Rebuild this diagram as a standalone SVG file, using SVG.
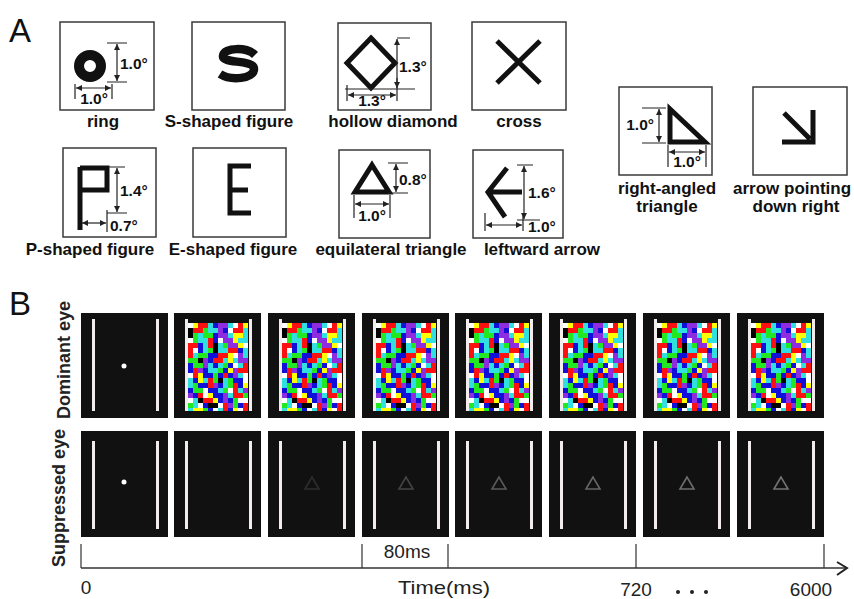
<svg xmlns="http://www.w3.org/2000/svg" xmlns:xlink="http://www.w3.org/1999/xlink" width="854" height="599" viewBox="0 0 854 599">
<style>
.box{fill:#fff;stroke:#3a3a3a;stroke-width:1.5}
.lbl{font-family:"Liberation Sans",Arial,sans-serif;font-weight:bold;font-size:17px;fill:#111}
.dim{font-family:"Liberation Sans",Arial,sans-serif;font-weight:bold;font-size:15.5px;fill:#111}
.fig{fill:none;stroke:#111;stroke-width:5;stroke-linejoin:miter}
.tk{stroke:#222;stroke-width:1.2;fill:none}
.da{stroke:#222;stroke-width:1.2;fill:none;marker-start:url(#ah);marker-end:url(#ah)}
.pan{font-family:"Liberation Sans",Arial,sans-serif;font-size:33px;fill:#111}
.frame{fill:#111}
.bar{fill:#f3ecec}
.tri{fill:none;stroke-width:1.6}
.ax{font-family:"Liberation Sans",Arial,sans-serif;font-size:19px;fill:#222}
.eye{font-family:"Liberation Sans",Arial,sans-serif;font-weight:bold;font-size:18px;fill:#222}
.R{fill:#ff1010}.G{fill:#22e822}.C{fill:#30e0e0}.Y{fill:#ffff00}.M{fill:#8e2de0}.W{fill:#ffffff}.K{fill:#000}.B{fill:#1010d8}
</style>
<defs>
<marker id="ah" viewBox="0 0 6 6" refX="6" refY="3" markerWidth="6" markerHeight="6" markerUnits="userSpaceOnUse" orient="auto-start-reverse">
<path d="M0,0 L6,3 L0,6 z" fill="#222"/>
</marker>
<clipPath id="mclip"><rect x="0" y="0" width="60" height="88"/></clipPath>
<g id="mond" clip-path="url(#mclip)">
<rect class="B" x="0" y="0" width="60" height="90"/>
<rect class="W" x="0" y="0" width="5" height="5"/><rect class="Y" x="5" y="0" width="5" height="5"/><rect class="R" x="10" y="0" width="10" height="5"/><rect class="C" x="20" y="0" width="5" height="5"/><rect class="M" x="30" y="0" width="10" height="5"/><rect class="C" x="40" y="0" width="5" height="5"/><rect class="W" x="45" y="0" width="5" height="5"/><rect class="R" x="50" y="0" width="5" height="5"/><rect class="Y" x="55" y="0" width="5" height="5"/>
<rect class="K" x="0" y="5" width="5" height="5"/><rect class="R" x="5" y="5" width="10" height="5"/><rect class="G" x="15" y="5" width="5" height="5"/><rect class="C" x="20" y="5" width="10" height="5"/><rect class="M" x="30" y="5" width="5" height="5"/><rect class="W" x="40" y="5" width="5" height="5"/><rect class="R" x="45" y="5" width="10" height="5"/><rect class="C" x="55" y="5" width="5" height="5"/>
<rect class="K" x="0" y="10" width="5" height="5"/><rect class="G" x="5" y="10" width="5" height="5"/><rect class="C" x="10" y="10" width="5" height="5"/><rect class="G" x="15" y="10" width="10" height="5"/><rect class="M" x="30" y="10" width="10" height="5"/><rect class="C" x="40" y="10" width="5" height="5"/><rect class="Y" x="45" y="10" width="10" height="5"/><rect class="C" x="55" y="10" width="5" height="5"/>
<rect class="W" x="0" y="15" width="5" height="5"/><rect class="G" x="5" y="15" width="5" height="5"/><rect class="C" x="10" y="15" width="10" height="5"/><rect class="R" x="20" y="15" width="5" height="5"/><rect class="W" x="30" y="15" width="5" height="5"/><rect class="M" x="35" y="15" width="10" height="5"/><rect class="Y" x="45" y="15" width="5" height="5"/><rect class="C" x="50" y="15" width="10" height="5"/>
<rect class="R" x="0" y="20" width="10" height="5"/><rect class="C" x="15" y="20" width="5" height="5"/><rect class="R" x="20" y="20" width="5" height="5"/><rect class="K" x="25" y="20" width="5" height="5"/><rect class="C" x="30" y="20" width="5" height="5"/><rect class="G" x="35" y="20" width="5" height="5"/><rect class="M" x="40" y="20" width="10" height="5"/><rect class="Y" x="50" y="20" width="5" height="5"/><rect class="W" x="55" y="20" width="5" height="5"/>
<rect class="R" x="0" y="25" width="5" height="5"/><rect class="W" x="5" y="25" width="5" height="5"/><rect class="C" x="15" y="25" width="5" height="5"/><rect class="G" x="20" y="25" width="5" height="5"/><rect class="K" x="25" y="25" width="5" height="5"/><rect class="C" x="30" y="25" width="10" height="5"/><rect class="R" x="40" y="25" width="10" height="5"/><rect class="C" x="55" y="25" width="5" height="5"/>
<rect class="R" x="0" y="30" width="5" height="5"/><rect class="C" x="5" y="30" width="5" height="5"/><rect class="G" x="10" y="30" width="10" height="5"/><rect class="R" x="30" y="30" width="10" height="5"/><rect class="Y" x="40" y="30" width="5" height="5"/><rect class="W" x="45" y="30" width="5" height="5"/><rect class="M" x="50" y="30" width="5" height="5"/><rect class="C" x="55" y="30" width="5" height="5"/>
<rect class="G" x="0" y="35" width="10" height="5"/><rect class="K" x="10" y="35" width="5" height="5"/><rect class="M" x="15" y="35" width="5" height="5"/><rect class="R" x="25" y="35" width="10" height="5"/><rect class="C" x="35" y="35" width="5" height="5"/><rect class="Y" x="40" y="35" width="5" height="5"/><rect class="C" x="45" y="35" width="5" height="5"/><rect class="M" x="50" y="35" width="10" height="5"/>
<rect class="G" x="5" y="40" width="10" height="5"/><rect class="M" x="15" y="40" width="5" height="5"/><rect class="C" x="20" y="40" width="5" height="5"/><rect class="C" x="30" y="40" width="5" height="5"/><rect class="G" x="35" y="40" width="5" height="5"/><rect class="W" x="45" y="40" width="5" height="5"/><rect class="C" x="50" y="40" width="5" height="5"/><rect class="R" x="55" y="40" width="5" height="5"/>
<rect class="R" x="5" y="45" width="5" height="5"/><rect class="M" x="10" y="45" width="5" height="5"/><rect class="C" x="20" y="45" width="10" height="5"/><rect class="G" x="30" y="45" width="5" height="5"/><rect class="Y" x="40" y="45" width="5" height="5"/><rect class="M" x="45" y="45" width="5" height="5"/><rect class="R" x="50" y="45" width="10" height="5"/>
<rect class="W" x="0" y="50" width="5" height="5"/><rect class="R" x="5" y="50" width="5" height="5"/><rect class="Y" x="10" y="50" width="5" height="5"/><rect class="G" x="25" y="50" width="5" height="5"/><rect class="R" x="35" y="50" width="5" height="5"/><rect class="M" x="45" y="50" width="5" height="5"/><rect class="C" x="50" y="50" width="5" height="5"/><rect class="W" x="55" y="50" width="5" height="5"/>
<rect class="C" x="0" y="55" width="5" height="5"/><rect class="Y" x="10" y="55" width="5" height="5"/><rect class="C" x="15" y="55" width="5" height="5"/><rect class="R" x="20" y="55" width="5" height="5"/><rect class="G" x="25" y="55" width="5" height="5"/><rect class="K" x="30" y="55" width="5" height="5"/><rect class="C" x="35" y="55" width="5" height="5"/><rect class="G" x="40" y="55" width="5" height="5"/><rect class="W" x="55" y="55" width="5" height="5"/>
<rect class="C" x="0" y="60" width="5" height="5"/><rect class="G" x="5" y="60" width="5" height="5"/><rect class="R" x="20" y="60" width="5" height="5"/><rect class="M" x="25" y="60" width="5" height="5"/><rect class="C" x="35" y="60" width="5" height="5"/><rect class="G" x="40" y="60" width="5" height="5"/><rect class="R" x="45" y="60" width="5" height="5"/><rect class="Y" x="55" y="60" width="5" height="5"/>
<rect class="G" x="5" y="65" width="10" height="5"/><rect class="W" x="15" y="65" width="5" height="5"/><rect class="C" x="30" y="65" width="5" height="5"/><rect class="G" x="35" y="65" width="5" height="5"/><rect class="W" x="40" y="65" width="5" height="5"/><rect class="R" x="45" y="65" width="5" height="5"/><rect class="C" x="50" y="65" width="5" height="5"/><rect class="M" x="55" y="65" width="5" height="5"/>
<rect class="M" x="0" y="70" width="5" height="5"/><rect class="R" x="10" y="70" width="5" height="5"/><rect class="W" x="15" y="70" width="5" height="5"/><rect class="Y" x="20" y="70" width="5" height="5"/><rect class="M" x="35" y="70" width="5" height="5"/><rect class="C" x="40" y="70" width="5" height="5"/><rect class="R" x="45" y="70" width="10" height="5"/><rect class="G" x="55" y="70" width="5" height="5"/>
<rect class="W" x="0" y="75" width="5" height="5"/><rect class="C" x="5" y="75" width="5" height="5"/><rect class="K" x="10" y="75" width="5" height="5"/><rect class="R" x="15" y="75" width="10" height="5"/><rect class="Y" x="25" y="75" width="5" height="5"/><rect class="M" x="35" y="75" width="5" height="5"/><rect class="G" x="45" y="75" width="5" height="5"/><rect class="W" x="50" y="75" width="10" height="5"/>
<rect class="G" x="0" y="80" width="5" height="5"/><rect class="C" x="5" y="80" width="5" height="5"/><rect class="W" x="10" y="80" width="5" height="5"/><rect class="K" x="20" y="80" width="10" height="5"/><rect class="W" x="30" y="80" width="5" height="5"/><rect class="R" x="35" y="80" width="5" height="5"/><rect class="M" x="40" y="80" width="5" height="5"/><rect class="G" x="45" y="80" width="5" height="5"/><rect class="R" x="55" y="80" width="5" height="5"/>
<rect class="C" x="0" y="85" width="5" height="5"/><rect class="Y" x="5" y="85" width="10" height="5"/><rect class="G" x="15" y="85" width="5" height="5"/><rect class="W" x="25" y="85" width="5" height="5"/><rect class="C" x="30" y="85" width="5" height="5"/><rect class="R" x="35" y="85" width="5" height="5"/><rect class="Y" x="45" y="85" width="5" height="5"/><rect class="W" x="50" y="85" width="5" height="5"/><rect class="R" x="55" y="85" width="5" height="5"/>
</g>
</defs>
<rect width="854" height="599" fill="#fff"/>

<text class="pan" x="9" y="42">A</text>
<text class="pan" x="9" y="315" font-size="31">B</text>

<!-- Panel A -->
<g id="ring">
<rect class="box" x="60" y="22" width="94" height="88"/>
<circle cx="90" cy="66" r="11" fill="none" stroke="#111" stroke-width="10"/>
<path class="tk" d="M107,43H127M107,82H127M75,84V99M112,84V99"/>
<line class="da" x1="117" y1="44" x2="117" y2="81"/>
<line class="da" x1="76" y1="88" x2="111" y2="88"/>
<text class="dim" x="120" y="69">1.0°</text>
<text class="dim" x="94" y="104" text-anchor="middle">1.0°</text>
<text class="lbl" x="103" y="127" text-anchor="middle">ring</text>
</g>
<g id="s-shape">
<rect class="box" x="192" y="22" width="93" height="88"/>
<path d="M255,55 C247,47 224,47 223,56 C222,64 254,59 254,69 C254,79 231,81 220,74" fill="none" stroke="#111" stroke-width="8.5"/>
<text class="lbl" x="229" y="127" text-anchor="middle">S-shaped figure</text>
</g>
<g id="diamond">
<rect class="box" x="338" y="23" width="93" height="87"/>
<polygon class="fig" points="371,38 395,63 371,88 347,63" stroke-width="5.5"/>
<path class="tk" d="M397,38H410M345,89H415M347,85V101M397,78V101"/>
<line class="da" x1="397" y1="39" x2="397" y2="88"/>
<line class="da" x1="348" y1="95" x2="396" y2="95"/>
<text class="dim" x="399" y="72">1.3°</text>
<text class="dim" x="372" y="106" text-anchor="middle">1.3°</text>
<text class="lbl" x="393" y="127" text-anchor="middle">hollow diamond</text>
</g>
<g id="cross">
<rect class="box" x="472" y="22" width="94" height="88"/>
<path class="fig" d="M497,41L540,83M540,41L497,83"/>
<text class="lbl" x="519" y="127" text-anchor="middle">cross</text>
</g>
<g id="p-shape">
<rect class="box" x="63" y="148" width="93" height="89"/>
<path class="fig" d="M80,167V230M80,168H107V190H80"/>
<path class="tk" d="M108,167H125M107,213H127M107,210V232"/>
<line class="da" x1="117" y1="168" x2="117" y2="212"/>
<line class="da" x1="82" y1="223" x2="106" y2="223"/>
<text class="dim" x="120" y="196">1.4°</text>
<text class="dim" x="110" y="231">0.7°</text>
<text class="lbl" x="90" y="255" text-anchor="middle">P-shaped figure</text>
</g>
<g id="e-shape">
<rect class="box" x="193" y="148" width="93" height="89"/>
<path class="fig" d="M251,166H230V213H251M230,190H248" stroke-width="4.5"/>
<text class="lbl" x="233" y="255" text-anchor="middle">E-shaped figure</text>
</g>
<g id="eq-triangle">
<rect class="box" x="339" y="150" width="91" height="88"/>
<polygon class="fig" points="372,165 389,192 355,192" stroke-width="4.5"/>
<path class="tk" d="M388,163H408M388,193H408M354,195V218M390,195V218"/>
<line class="da" x1="396" y1="164" x2="396" y2="192"/>
<line class="da" x1="355" y1="204" x2="389" y2="204"/>
<text class="dim" x="399" y="185">0.8°</text>
<text class="dim" x="372" y="221" text-anchor="middle">1.0°</text>
<text class="lbl" x="391" y="255" text-anchor="middle">equilateral triangle</text>
</g>
<g id="left-arrow">
<rect class="box" x="473" y="150" width="90" height="88"/>
<path class="fig" d="M507,168L488,192L505,217M488,192H522"/>
<path class="tk" d="M517,165H533M517,220H540M485,213V231M523,213V231"/>
<line class="da" x1="524" y1="166" x2="524" y2="219"/>
<line class="da" x1="486" y1="225" x2="522" y2="225"/>
<text class="dim" x="528" y="198">1.6°</text>
<text class="dim" x="528" y="232">1.0°</text>
<text class="lbl" x="542" y="255" text-anchor="middle">leftward arrow</text>
</g>
<g id="right-triangle">
<rect class="box" x="619" y="87" width="93" height="88"/>
<polygon class="fig" points="670,109 705,142 670,142"/>
<path class="tk" d="M642,108H666M642,143H666M668,145V167M706,145V167"/>
<line class="da" x1="659" y1="109" x2="659" y2="142"/>
<line class="da" x1="669" y1="152" x2="705" y2="152"/>
<text class="dim" x="654" y="130" text-anchor="end">1.0°</text>
<text class="dim" x="687" y="167" text-anchor="middle">1.0°</text>
<text class="lbl" x="667" y="194" text-anchor="middle">right-angled</text>
<text class="lbl" x="667" y="212" text-anchor="middle">triangle</text>
</g>
<g id="arrow-down-right">
<rect class="box" x="753" y="87" width="94" height="88"/>
<path class="fig" d="M813,110V142H782M784,113L810,139"/>
<text class="lbl" x="733" y="194">arrow pointing</text>
<text class="lbl" x="796" y="212" text-anchor="middle">down right</text>
</g>

<!-- Panel B -->
<text class="eye" transform="translate(70,360) rotate(-90)" text-anchor="middle">Dominant eye</text>
<text class="eye" transform="translate(65,498) rotate(-90)" text-anchor="middle">Suppressed eye</text>

<g id="dom-1"><rect class="frame" x="81" y="313" width="87" height="105"/><rect class="bar" x="92" y="319" width="3" height="92"/><rect class="bar" x="156" y="319" width="3" height="92"/><circle cx="124" cy="366" r="2.5" fill="#fff"/></g>
<g id="dom-2"><rect class="frame" x="174" y="313" width="87" height="105"/><use href="#mond" x="188" y="323"/><rect class="bar" x="185" y="319" width="3" height="92"/><rect class="bar" x="249" y="319" width="3" height="92"/></g>
<g id="dom-3"><rect class="frame" x="268" y="313" width="87" height="105"/><use href="#mond" x="282" y="323"/><rect class="bar" x="279" y="319" width="3" height="92"/><rect class="bar" x="343" y="319" width="3" height="92"/></g>
<g id="dom-4"><rect class="frame" x="362" y="313" width="87" height="105"/><use href="#mond" x="376" y="323"/><rect class="bar" x="373" y="319" width="3" height="92"/><rect class="bar" x="437" y="319" width="3" height="92"/></g>
<g id="dom-5"><rect class="frame" x="455" y="313" width="87" height="105"/><use href="#mond" x="469" y="323"/><rect class="bar" x="466" y="319" width="3" height="92"/><rect class="bar" x="530" y="319" width="3" height="92"/></g>
<g id="dom-6"><rect class="frame" x="549" y="313" width="87" height="105"/><use href="#mond" x="563" y="323"/><rect class="bar" x="560" y="319" width="3" height="92"/><rect class="bar" x="624" y="319" width="3" height="92"/></g>
<g id="dom-7"><rect class="frame" x="643" y="313" width="87" height="105"/><use href="#mond" x="657" y="323"/><rect class="bar" x="654" y="319" width="3" height="92"/><rect class="bar" x="718" y="319" width="3" height="92"/></g>
<g id="dom-8"><rect class="frame" x="737" y="313" width="87" height="105"/><use href="#mond" x="751" y="323"/><rect class="bar" x="748" y="319" width="3" height="92"/><rect class="bar" x="812" y="319" width="3" height="92"/></g>

<g id="sup-1"><rect class="frame" x="81" y="431" width="87" height="106"/><rect class="bar" x="92" y="441" width="3" height="88"/><rect class="bar" x="156" y="441" width="3" height="88"/><circle cx="124" cy="482" r="2.5" fill="#fff"/></g>
<g id="sup-2"><rect class="frame" x="174" y="431" width="87" height="106"/><rect class="bar" x="185" y="441" width="3" height="88"/><rect class="bar" x="249" y="441" width="3" height="88"/></g>
<g id="sup-3"><rect class="frame" x="268" y="431" width="87" height="106"/><rect class="bar" x="279" y="441" width="3" height="88"/><rect class="bar" x="343" y="441" width="3" height="88"/><polygon class="tri" stroke="#2e2e2e" points="312,477 305,489 319,489"/></g>
<g id="sup-4"><rect class="frame" x="362" y="431" width="87" height="106"/><rect class="bar" x="373" y="441" width="3" height="88"/><rect class="bar" x="437" y="441" width="3" height="88"/><polygon class="tri" stroke="#444" points="406,477 399,489 413,489"/></g>
<g id="sup-5"><rect class="frame" x="455" y="431" width="87" height="106"/><rect class="bar" x="466" y="441" width="3" height="88"/><rect class="bar" x="530" y="441" width="3" height="88"/><polygon class="tri" stroke="#595959" points="499,477 492,489 506,489"/></g>
<g id="sup-6"><rect class="frame" x="549" y="431" width="87" height="106"/><rect class="bar" x="560" y="441" width="3" height="88"/><rect class="bar" x="624" y="441" width="3" height="88"/><polygon class="tri" stroke="#666" points="593,477 586,489 600,489"/></g>
<g id="sup-7"><rect class="frame" x="643" y="431" width="87" height="106"/><rect class="bar" x="654" y="441" width="3" height="88"/><rect class="bar" x="718" y="441" width="3" height="88"/><polygon class="tri" stroke="#6e6e6e" points="687,477 680,489 694,489"/></g>
<g id="sup-8"><rect class="frame" x="737" y="431" width="87" height="106"/><rect class="bar" x="748" y="441" width="3" height="88"/><rect class="bar" x="812" y="441" width="3" height="88"/><polygon class="tri" stroke="#737373" points="781,477 774,489 788,489"/></g>

<g id="connectors">
<path d="M81,568H846" stroke="#333" stroke-width="1.6" fill="none"/>
<path d="M837,562L847,568L837,575" stroke="#222" stroke-width="2" fill="none"/>
<path d="M81,544V568M362,544V568M448,544V568M636,544V568M824,544V568" stroke="#333" stroke-width="1.2" fill="none"/>
</g>
<g id="axis-labels">
<text class="ax" x="86" y="594" text-anchor="middle">0</text>
<text class="ax" x="407" y="558" text-anchor="middle">80ms</text>
<text class="ax" x="444" y="594" text-anchor="middle" font-size="23" textLength="92" lengthAdjust="spacingAndGlyphs">Time(ms)</text>
<text class="ax" x="636" y="596" text-anchor="middle" font-size="20">720</text>
<text class="ax" x="811" y="596" text-anchor="middle" font-size="20">6000</text>
<circle cx="678" cy="592" r="2" fill="#222"/>
<circle cx="692" cy="592" r="2" fill="#222"/>
<circle cx="706" cy="592" r="2" fill="#222"/>
</g>
</svg>
